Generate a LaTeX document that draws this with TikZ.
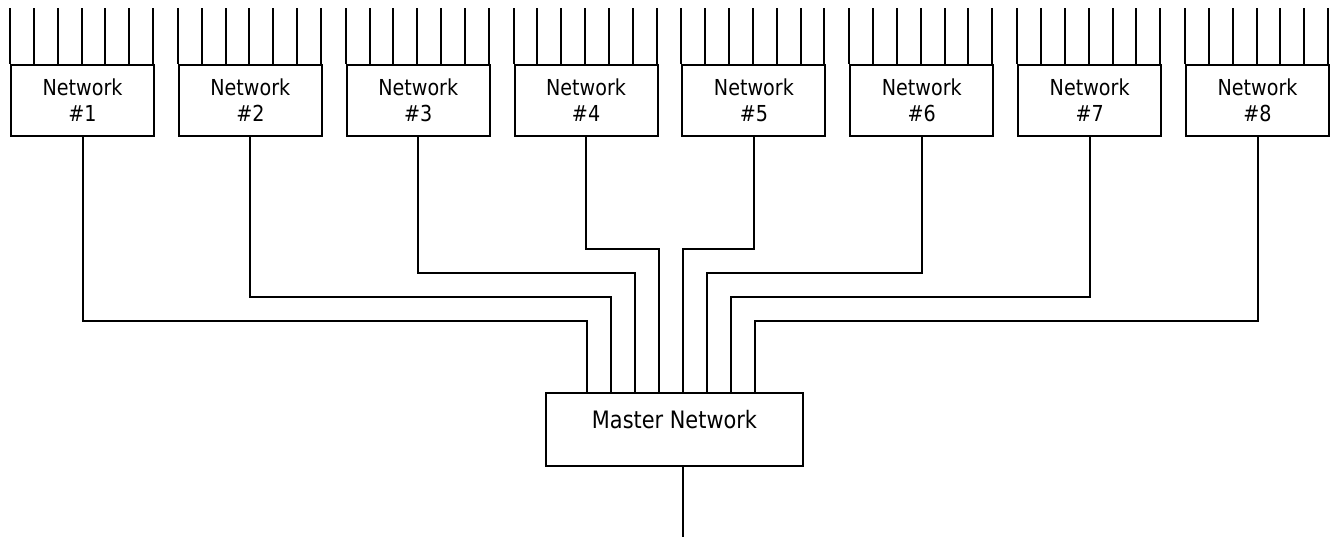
\documentclass[tikz,border=0pt]{standalone}
\usepackage{fontspec}
\setmainfont{DejaVu Sans}[FakeStretch=0.87]
\usetikzlibrary{calc}
\begin{document}
\begin{tikzpicture}[x=1pt,y=-1pt,line width=2pt,
  netbox/.style={draw, minimum width=143pt, minimum height=71pt, inner sep=0pt,
    align=center, font=\fontsize{22}{26}\selectfont},
  masterbox/.style={draw, minimum width=257pt, minimum height=73pt, inner sep=0pt},
  mastertext/.style={anchor=base, inner sep=0pt, font=\fontsize{24}{28}\selectfont}]
\useasboundingbox (0,0) rectangle (1339,537);
% network boxes
\foreach \i in {1,...,8}{
  \node[netbox] (n\i) at ({82.5+167.86*(\i-1)},100.5) {Network\\\#\i};
  \foreach \k in {0,...,6}
    \draw ([xshift={\k*143/6}]n\i.north west) -- ++(0,-56);
}
% master
\node[masterbox] (master) at (674.5,429.5) {};
\node[mastertext] (mlabel) at (674.5,428) {Master Network};
% connectors
\foreach \i/\lev in {1/321,2/297,3/273,4/249,5/249,6/273,7/297,8/321}{
  \coordinate (j\i) at ({587+24*(\i-1)},\lev);
  \coordinate (in\i) at (j\i |- master.north);
  \draw (n\i.south) |- (j\i) -- (in\i);
}
\coordinate (out) at (683,537);
\draw (master.south -| out) -- (out);
\end{tikzpicture}
\end{document}
